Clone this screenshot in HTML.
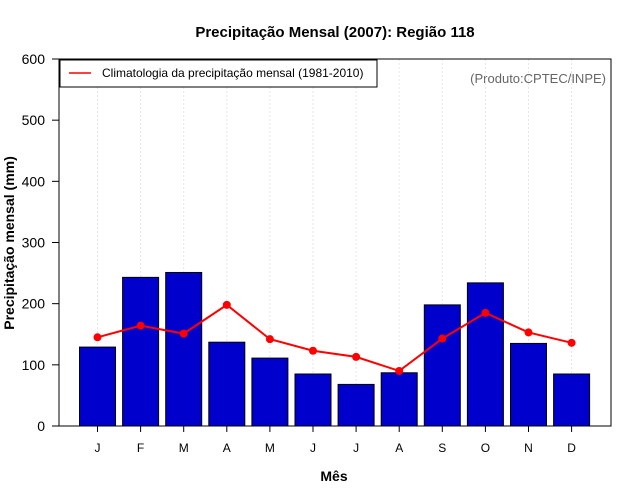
<!DOCTYPE html>
<html><head><meta charset="utf-8"><style>body{margin:0;background:#fff}svg{display:block;font-family:"Liberation Sans",sans-serif}</style></head>
<body>
<svg id="c" width="640" height="500" xmlns="http://www.w3.org/2000/svg">
<text x="335" y="37" text-anchor="middle" font-size="15" font-weight="bold">Precipitação Mensal (2007): Região 118</text>
<text x="334" y="481" text-anchor="middle" font-size="14" font-weight="bold">Mês</text>
<text transform="translate(14,243) rotate(-90)" text-anchor="middle" font-size="14" font-weight="bold">Precipitação mensal (mm)</text>
<text x="606" y="83" text-anchor="end" font-size="13" fill="#666">(Produto:CPTEC/INPE)</text>
<g id="g"></g>
<rect x="59" y="59" width="552" height="367" fill="none" stroke="#000"/>
<g>
<rect x="60" y="60" width="317" height="27" fill="#fff" stroke="#000"/>
<line x1="69" y1="73" x2="91" y2="73" stroke="red" stroke-width="1.5"/>
<text x="102" y="77" font-size="12">Climatologia da precipitação mensal (1981-2010)</text>
</g>
</svg>
<script>
const months=["J","F","M","A","M","J","J","A","S","O","N","D"];
const precip=[129,243,251,137,111,85,68,87,198,234,135,85];
const climatology=[145,164,151,198,142,123,113,90,143,185,153,136];
const yTicks=[0,100,200,300,400,500,600];
const NS="http://www.w3.org/2000/svg";
const g=document.getElementById("g");
const xs=i=>97.5+i*43.1;
const ys=v=>426-v*367/600;
function mk(t,a){const e=document.createElementNS(NS,t);for(const k in a)e.setAttribute(k,a[k]);g.appendChild(e);return e;}
months.forEach((m,i)=>{
 const gl=mk("line",{x1:xs(i),x2:xs(i),y1:59,y2:426,stroke:"#e6e6e6","stroke-dasharray":"2,2"});
 
 
});
precip.forEach((v,i)=>{
 const r=mk("rect",{x:xs(i)-18,y:ys(v),width:36,height:426-ys(v),fill:"#0000cd",stroke:"#000"});
 
 
});
const pl=mk("polyline",{points:climatology.map((v,i)=>xs(i)+","+ys(v)).join(" "),fill:"none",stroke:"red","stroke-width":2});


climatology.forEach((v,i)=>{
 const c=mk("circle",{cx:xs(i),cy:ys(v),r:4,fill:"red"});
 
 
});
months.forEach((m,i)=>{
 const t=mk("line",{x1:xs(i),x2:xs(i),y1:426,y2:432,stroke:"#000"});
 
 
 const l=mk("text",{x:xs(i),y:452,"text-anchor":"middle","font-size":12});
 l.textContent=m;
 
 
});
yTicks.forEach(v=>{
 const t=mk("line",{x1:52,x2:59,y1:ys(v),y2:ys(v),stroke:"#000"});
 
 
 const l=mk("text",{x:45,y:ys(v)+5,"text-anchor":"end","font-size":14});
 l.textContent=v;
 
 
});
</script>
</body></html>
